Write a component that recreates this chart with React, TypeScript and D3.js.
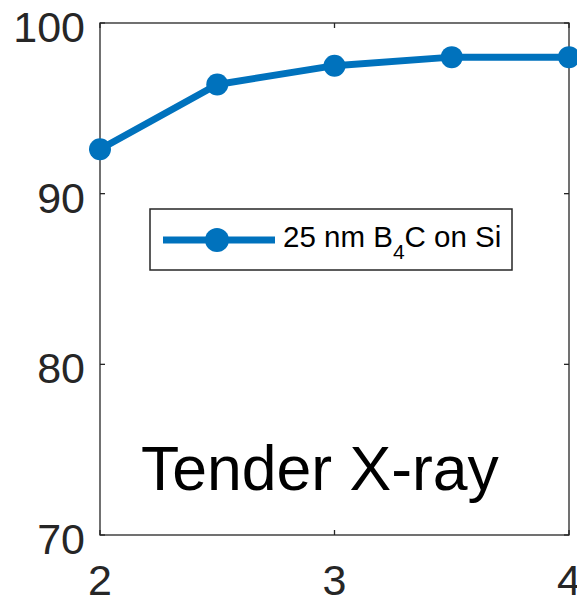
import React, { useEffect, useRef } from "react"
import * as d3 from "d3"

const energies = [2, 2.5, 3, 3.5, 4]
const reflectivity = [92.6, 96.4, 97.5, 98.0, 98.0]
const xTicks = [2, 3, 4]
const yTicks = [70, 80, 90, 100]
const seriesName = ["25 nm B", "4", "C on Si"]
const annotation = "Tender X-ray"

const width = 577
const height = 603

const App = () => {
    const ref = useRef<SVGGElement>(null)

    useEffect(() => {
        const group = d3.select(ref.current)
        group.selectAll("*").remove()

        const margin = { top: 23, right: 8, bottom: 68, left: 100 }
        const innerWidth = width - margin.left - margin.right
        const innerHeight = height - margin.top - margin.bottom
        const blue = "#0072BD"
        const axisColor = "#262626"
        const font = "Arial, 'Liberation Sans', sans-serif"

        const xScale = d3.scaleLinear().domain([2, 4]).range([0, innerWidth])
        const yScale = d3.scaleLinear().domain([70, 100]).range([innerHeight, 0])

        const g = group.append("g")
            .attr("transform", `translate(${margin.left}, ${margin.top})`)

        // box
        g.append("rect")
            .attr("width", innerWidth)
            .attr("height", innerHeight)
            .attr("fill", "none")
            .attr("stroke", axisColor)
            .attr("stroke-width", 1.3)

        // ticks pointing inward, mirrored on the box
        const tickLen = 5
        xTicks.forEach(t => {
            const x = xScale(t)
            g.append("line").attr("x1", x).attr("x2", x)
                .attr("y1", innerHeight).attr("y2", innerHeight - tickLen)
                .attr("stroke", axisColor).attr("stroke-width", 1.3)
            g.append("line").attr("x1", x).attr("x2", x)
                .attr("y1", 0).attr("y2", tickLen)
                .attr("stroke", axisColor).attr("stroke-width", 1.3)
            g.append("text")
                .attr("x", x)
                .attr("y", innerHeight + 60)
                .attr("text-anchor", "middle")
                .attr("font-family", font)
                .attr("font-size", 43)
                .attr("fill", axisColor)
                .text(t)
        })
        yTicks.forEach(t => {
            const y = yScale(t)
            g.append("line").attr("x1", 0).attr("x2", tickLen)
                .attr("y1", y).attr("y2", y)
                .attr("stroke", axisColor).attr("stroke-width", 1.3)
            g.append("line").attr("x1", innerWidth).attr("x2", innerWidth - tickLen)
                .attr("y1", y).attr("y2", y)
                .attr("stroke", axisColor).attr("stroke-width", 1.3)
            g.append("text")
                .attr("x", -15)
                .attr("y", y + 19)
                .attr("text-anchor", "end")
                .attr("font-family", font)
                .attr("font-size", 43)
                .attr("fill", axisColor)
                .text(t)
        })

        // series
        const points = energies.map((e, i) => [e, reflectivity[i]] as [number, number])
        const line = d3.line<[number, number]>()
            .x(d => xScale(d[0]))
            .y(d => yScale(d[1]))

        g.append("path")
            .datum(points)
            .attr("d", line)
            .attr("fill", "none")
            .attr("stroke", blue)
            .attr("stroke-width", 7)
            .attr("stroke-linejoin", "round")

        g.selectAll("circle.pt")
            .data(points)
            .enter().append("circle")
                .attr("class", "pt")
                .attr("cx", d => xScale(d[0]))
                .attr("cy", d => yScale(d[1]))
                .attr("r", 11)
                .attr("fill", blue)

        // legend
        const lg = group.append("g").attr("transform", "translate(150, 209)")
        lg.append("rect")
            .attr("width", 362)
            .attr("height", 61)
            .attr("fill", "white")
            .attr("stroke", axisColor)
            .attr("stroke-width", 1.5)
        lg.append("line")
            .attr("x1", 13).attr("x2", 125)
            .attr("y1", 31).attr("y2", 31)
            .attr("stroke", blue).attr("stroke-width", 7)
        lg.append("circle")
            .attr("cx", 67).attr("cy", 31).attr("r", 12)
            .attr("fill", blue)
        const lt = lg.append("text")
            .attr("x", 133)
            .attr("y", 38)
            .attr("font-family", font)
            .attr("font-size", 29.5)
            .attr("fill", "#000")
        lt.append("tspan").text(seriesName[0])
        lt.append("tspan").attr("dy", 12).attr("font-size", 21).text(seriesName[1])
        lt.append("tspan").attr("dy", -12).text(seriesName[2])

        // annotation
        group.append("text")
            .attr("x", 141)
            .attr("y", 490)
            .attr("font-family", font)
            .attr("font-size", 62.5)
            .attr("fill", "#000")
            .text(annotation)
    }, [])

    return (
        <div>
            <svg width={width} height={height}
                style={{ position: "absolute", left: 0, top: 0, background: "white" }}>
                <g ref={ref} />
            </svg>
        </div>
    )
}

export default App
